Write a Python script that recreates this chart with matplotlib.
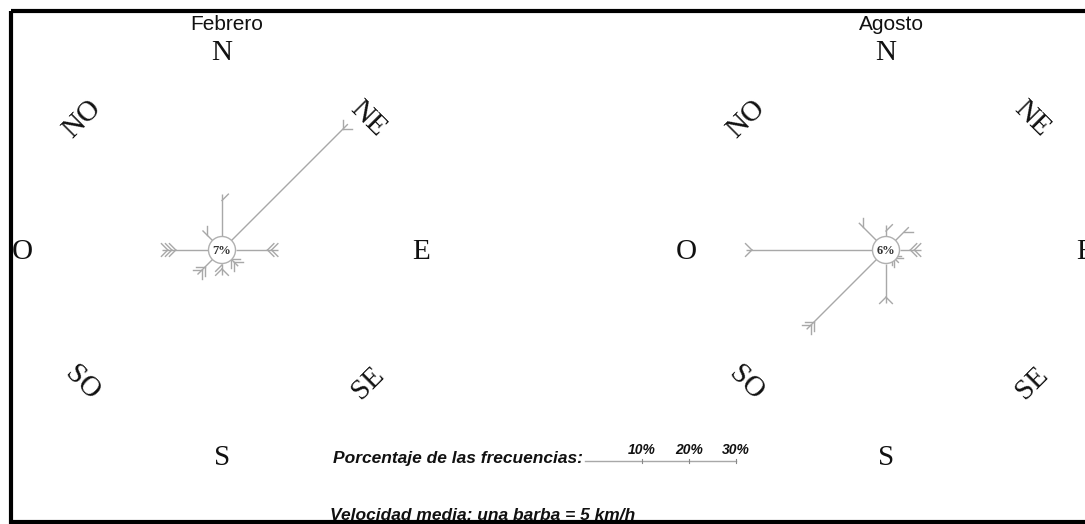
import numpy as np
import matplotlib
matplotlib.use("Agg")
import matplotlib.pyplot as plt
from matplotlib.patches import Circle, Rectangle

# ---------------- data ----------------
directions = ['N', 'NE', 'E', 'SE', 'S', 'SO', 'O', 'NO']
angles_deg = [90, 45, 0, -45, -90, -135, 180, 135]
label_names = ['N', 'NE', 'E', 'SE', 'S', 'SO', 'O', 'NO']

feb_title = 'Febrero'
feb_pct = [9, 35, 9, 2, 2.5, 4.5, 10, 3]          # frequency (%)
feb_barbs = [0.5, 1, 2, 2, 1.5, 2, 3, 0.5]         # mean speed / 5 km/h
feb_calm = 7

ago_title = 'Agosto'
ago_pct = [2.5, 4, 4.5, 1, 8.5, 21, 27, 5.3]
ago_barbs = [0.5, 0.5, 2, 2, 1, 2, 1, 0.5]
ago_calm = 6

scale_ticks = [10, 20, 30]
scale_labels = ['10%', '20%', '30%']

# ---------------- layout ----------------
W, H = 1085, 524
fig = plt.figure(figsize=(W / 100, H / 100), dpi=100)
ax = fig.add_axes([0, 0, 1, 1])
ax.set_xlim(0, W)
ax.set_ylim(H, 0)
ax.axis('off')

K = 4.7        # px per percent
R = 13.5       # calm circle radius
ARM = 9.0      # barb arm length
SP = 4.0       # spacing between barbs
SPOKE_C = '#a8a8a8'

serif = 'Liberation Serif'
sans = 'Liberation Sans'


def pt(cx, cy, r, a):
    return cx + r * np.cos(np.radians(a)), cy - r * np.sin(np.radians(a))


def draw_rose(cx, cy, title, pcts, barbs, calm):
    for a, p, b in zip(angles_deg, pcts, barbs):
        L = R + p * K
        x0, y0 = pt(cx, cy, R, a)
        x1, y1 = pt(cx, cy, L, a)
        ax.plot([x0, x1], [y0, y1], color=SPOKE_C, lw=1.0, solid_capstyle='butt', zorder=2)
        full = int(b)
        half = (b - full) >= 0.5
        n = full + (1 if half else 0)
        for i in range(n):
            d = L - ARM * 0.7 - i * SP
            vx, vy = pt(cx, cy, d, a)
            sides = [-45, 45]
            if half and i == n - 1:
                sides = [-45]
            for s in sides:
                ex = vx + ARM * np.cos(np.radians(a + s))
                ey = vy - ARM * np.sin(np.radians(a + s))
                ax.plot([vx, ex], [vy, ey], color=SPOKE_C, lw=1.0, zorder=2)
    ax.add_patch(Circle((cx, cy), R, facecolor='white', edgecolor='#b0b0b0', lw=1.0, zorder=3))
    ax.text(cx, cy + 0.5, f'{calm}%', ha='center', va='center', fontsize=9,
            fontweight='bold', family=serif, color='#333333', zorder=4)
    # direction labels
    for name, a in zip(label_names, angles_deg):
        rot = 0
        if a == 90:
            x, y = cx, cy - 197
        elif a == -90:
            x, y = cx, cy + 208
        elif a == 0:
            x, y = cx + 199, cy + 2
        elif a == 180:
            x, y = cx - 200, cy + 2
        else:
            x = cx + (146 if np.cos(np.radians(a)) > 0 else -140)
            y = cy - (131 if np.sin(np.radians(a)) > 0 else -133)
            rot = 45 if (a in (135, -45)) else -45
        ax.text(x, y, name, ha='center', va='center', fontsize=21, family=serif,
                rotation=rot, color='#111111', zorder=4)
    ax.text(cx + 5, 24, title, ha='center', va='center', fontsize=15, family=sans,
            color='#111111', zorder=4)


draw_rose(222, 250, feb_title, feb_pct, feb_barbs, feb_calm)
draw_rose(886, 250, ago_title, ago_pct, ago_barbs, ago_calm)

# ---------------- legend ----------------
ax.text(583, 459, 'Porcentaje de las frecuencias:', ha='right', va='center', fontsize=12.5,
        family=sans, fontweight='bold', style='italic', color='#111111')
x_zero = 595
ax.plot([x_zero - 10, x_zero + scale_ticks[-1] * K], [461, 461], color=SPOKE_C, lw=1.0)
for t, lab in zip(scale_ticks, scale_labels):
    xt = x_zero + t * K
    ax.plot([xt, xt], [459, 463], color='#888888', lw=0.8)
    ax.text(xt, 450, lab, ha='center', va='center', fontsize=10, family=sans,
            fontweight='bold', style='italic', color='#111111')
ax.text(330, 516, 'Velocidad media: una barba = 5 km/h', ha='left', va='center', fontsize=12.5,
        family=sans, fontweight='bold', style='italic', color='#111111')

# ---------------- frame ----------------
ax.add_patch(Rectangle((11, 11), 1200, 510.5, fill=False, edgecolor='black', lw=3, zorder=10))

fig.savefig('out.png', dpi=100)
